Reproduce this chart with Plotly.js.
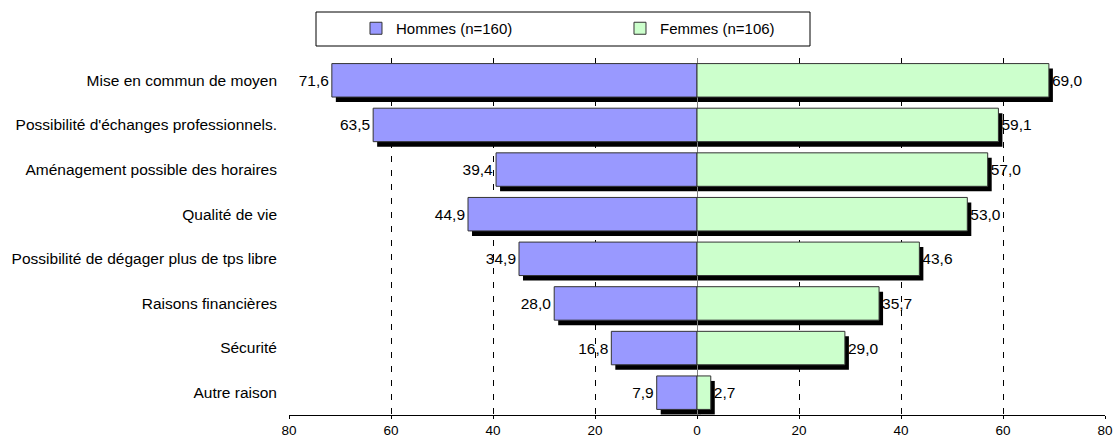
<!DOCTYPE html>
<html>
<head>
<meta charset="utf-8">
<script src="https://cdn.plot.ly/plotly-3.0.1.min.js"></script>
<style>
  html, body { margin: 0; padding: 0; background: #fff; }
  #chart { width: 1114px; height: 443px; }
</style>
</head>
<body>
<div id="chart"></div>
<script>
// Raisons du choix, réponses en % selon le sexe
const categories = [
  "Mise en commun de moyen",
  "Possibilité d'échanges professionnels.",
  "Aménagement possible des horaires",
  "Qualité de vie",
  "Possibilité de dégager plus de tps libre",
  "Raisons financières",
  "Sécurité",
  "Autre raison"
];
const hommes = [71.6, 63.5, 39.4, 44.9, 34.9, 28.0, 16.8, 7.9];
const femmes = [69.0, 59.1, 57.0, 53.0, 43.6, 35.7, 29.0, 2.7];
const seriesNames = ["Hommes (n=160)", "Femmes (n=106)"];
const tickValues = [-80, -60, -40, -20, 0, 20, 40, 60, 80];
const tickLabels = ["80", "60", "40", "20", "0", "20", "40", "60", "80"];

const fmt = v => v.toFixed(1).replace('.', ',');
const family = "Liberation Sans, Arial, sans-serif";
const font = { family: family, size: 15.5, color: "#000" };
const legendFont = { family: family, size: 15, color: "#000" };
const tickFont = { family: family, size: 13.5, color: "#000" };

// Layout geometry (pixels)
const W = 1114, H = 443;
const mL = 289, mR = 5, mT = 58, mB = 23;
const plotW = W - mL - mR, plotH = H - mT - mB;
const shX = 4, shY = 5;   // drop-shadow offset
const dx = shX / plotW, dy = shY / plotH;

const left = hommes.map(v => -v);

const traces = [
  // drop shadows (drawn first, on the shifted subplot)
  { type: "bar", orientation: "h", y: categories, x: left, xaxis: "x", yaxis: "y",
    marker: { color: "#000", line: { width: 0 } }, showlegend: false, hoverinfo: "skip" },
  { type: "bar", orientation: "h", y: categories, x: femmes, xaxis: "x", yaxis: "y",
    marker: { color: "#000", line: { width: 0 } }, showlegend: false, hoverinfo: "skip" },
  // main bars
  { type: "bar", orientation: "h", name: seriesNames[0], y: categories, x: left,
    xaxis: "x2", yaxis: "y2",
    marker: { color: "#9999FF", line: { color: "#333", width: 1 } },
    text: hommes.map(fmt), textposition: "outside", cliponaxis: false,
    textfont: font, constraintext: "none" },
  { type: "bar", orientation: "h", name: seriesNames[1], y: categories, x: femmes,
    xaxis: "x2", yaxis: "y2",
    marker: { color: "#CCFFCC", line: { color: "#333", width: 1 } },
    text: femmes.map(fmt), textposition: "outside", cliponaxis: false,
    textfont: font, constraintext: "none" }
];

const catRange = [categories.length - 0.5, -0.5];

const layout = {
  width: W, height: H,
  margin: { l: mL, r: mR, t: mT, b: mB, pad: 0 },
  paper_bgcolor: "#fff", plot_bgcolor: "rgba(0,0,0,0)",
  font: font,
  barmode: "overlay",
  bargap: 0.25,
  showlegend: true,
  legend: {
    orientation: "h", x: 0.0817, xanchor: "left", y: (H - mB - 12) / plotH, yanchor: "top",
    entrywidth: 219, entrywidthmode: "pixels",
    font: legendFont, bgcolor: "rgba(0,0,0,0)", borderwidth: 0, traceorder: "normal"
  },
  xaxis: { domain: [dx, 1], anchor: "y", range: [-80, 80], visible: false, fixedrange: true },
  yaxis: { domain: [0, 1 - dy], anchor: "x", type: "category", categoryarray: categories,
           range: catRange, visible: false, fixedrange: true },
  xaxis2: {
    domain: [0, 1 - dx], anchor: "y2", range: [-80, 80],
    tickmode: "array", tickvals: tickValues, ticktext: tickLabels,
    showgrid: true, gridcolor: "#000", gridwidth: 1, griddash: "6px,8px",
    zeroline: true, zerolinecolor: "#808080", zerolinewidth: 1,
    showline: true, linecolor: "#000", linewidth: 1,
    ticks: "outside", ticklen: 3, tickcolor: "#000",
    tickfont: tickFont, fixedrange: true
  },
  yaxis2: {
    domain: [dy, 1], anchor: "x2", type: "category", categoryarray: categories,
    range: catRange, showgrid: false, zeroline: false, showline: false,
    ticks: "", tickfont: font, ticklabelstandoff: 11, fixedrange: true
  },
  shapes: [
    // legend frame
    { type: "rect", xref: "paper", yref: "paper",
      x0: (316 - mL) / plotW, x1: (810 - mL) / plotW,
      y0: (H - mB - 46) / plotH, y1: (H - mB - 12) / plotH,
      line: { color: "#000", width: 1 }, fillcolor: "rgba(0,0,0,0)", layer: "above" }
  ]
};

Plotly.newPlot("chart", traces, layout, { staticPlot: true, displayModeBar: false });
</script>
</body>
</html>
